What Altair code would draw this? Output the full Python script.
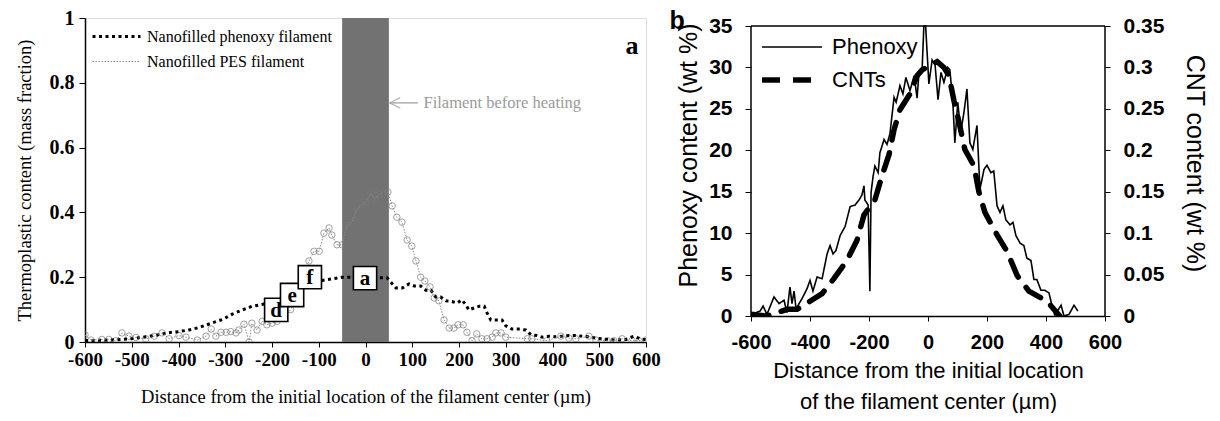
import altair as alt
import pandas as pd

# ---------------- Panel a data ----------------
phen_x = [-600, -575, -550, -525, -500, -475, -450, -425, -400, -378, -355, -330, -305, -285, -265, -243, -217,
          -190, -160, -130, -105, -93, -70, -50, -30, 33, 46, 65, 79, 93, 104, 118, 129, 140, 150, 161, 172, 185,
          196, 206, 215, 221, 232, 243, 254, 260, 268, 282, 292, 300, 313, 328, 343, 354, 367, 378, 392, 407, 420,
          435, 450, 463, 478, 493, 514, 536, 557, 574, 591, 600]
phen_y = [0.005, 0.005, 0.006, 0.008, 0.01, 0.015, 0.02, 0.028, 0.032, 0.037, 0.045, 0.058, 0.07, 0.086, 0.098,
          0.11, 0.117, 0.13, 0.15, 0.172, 0.188, 0.19, 0.195, 0.2, 0.2, 0.198, 0.198, 0.167, 0.167, 0.179, 0.173,
          0.173, 0.16, 0.16, 0.139, 0.139, 0.127, 0.125, 0.12, 0.13, 0.114, 0.099, 0.105, 0.11, 0.11, 0.09, 0.068,
          0.068, 0.068, 0.05, 0.04, 0.04, 0.037, 0.022, 0.02, 0.015, 0.018, 0.016, 0.018, 0.02, 0.02, 0.018, 0.016,
          0.012, 0.008, 0.006, 0.008, 0.018, 0.008, 0.008]

pes_x = [-600, -587, -564, -549, -534, -521, -506, -491, -470, -452, -435, -420, -399, -384, -360, -341, -330, -320,
         -309, -298, -288, -277, -271, -260, -249, -243, -232, -221, -211, -200, -189, -175, -160, -145, -130, -121,
         -110, -99, -89, -78, -72, -61, -50, -40, -29, -18, -7, 1, 12, 20, 29, 40, 48, 57, 67, 78, 89, 99, 108, 118,
         127, 138, 147, 157, 168, 179, 189, 198, 209, 217, 228, 238, 249, 260, 271, 279, 290, 300, 346, 356, 388,
         418, 435, 450, 478, 493, 517, 531, 549, 570, 585, 600]
pes_y = [0.022, 0.006, 0.008, 0.008, 0.004, 0.028, 0.018, 0.014, 0.01, 0.018, 0.028, 0.01, 0.02, 0.015, 0.006, 0.018,
         0.04, 0.018, 0.03, 0.03, 0.032, 0.028, 0.037, 0.055, 0.0, 0.058, 0.037, 0.064, 0.053, 0.058, 0.064, 0.075,
         0.1, 0.15, 0.22, 0.25, 0.28, 0.28, 0.336, 0.352, 0.33, 0.3, 0.3, 0.36, 0.37, 0.41, 0.423, 0.432, 0.46, 0.44,
         0.455, 0.463, 0.463, 0.42, 0.385, 0.37, 0.315, 0.296, 0.25, 0.2, 0.188, 0.17, 0.136, 0.127, 0.068, 0.043,
         0.043, 0.053, 0.053, 0.03, 0.004, 0.025, 0.01, 0.01, 0.015, 0.028, 0.028, 0.015, 0.01, 0.01, 0.004, 0.018,
         0.012, 0.01, 0.018, 0.006, 0.004, 0.004, 0.01, 0.004, 0.004, 0.006]

series_a = ["Nanofilled phenoxy filament", "Nanofilled PES filament"]
band_x = [-50]
band_x2 = [50]
box_labels = ["d", "e", "f", "a"]
box_x = [-191, -157, -119, -1]
box_y = [0.099, 0.145, 0.2, 0.197]
yticks_a = [0, 0.1, 0.2, 0.3, 0.4, 0.5, 0.6, 0.7, 0.8, 0.9, 1]

# ---------------- Panel b data ----------------
pb_x = [-597, -569, -559, -546, -522, -505, -488, -478, -468, -461, -454, -447, -437, -427, -410, -400, -390, -376,
        -359, -342, -332, -322, -312, -298, -281, -264, -247, -234, -224, -217, -214, -203, -197, -193, -186, -180,
        -169, -163, -149, -139, -129, -115, -108, -95, -85, -75, -61, -47, -37, -31, -20, -14, -8, 3, 14, 24, 34,
        44, 54, 67, 74, 84, 91, 101, 111, 122, 132, 142, 152, 166, 176, 190, 200, 213, 223, 234, 244, 254, 264, 278,
        288, 298, 312, 325, 335, 349, 359, 369, 383, 396, 410, 420, 430, 451, 461, 478, 495, 508]
pb_y = [0.2, 0.6, 1.2, 0.2, 2.3, 1.5, 1.9, 0.4, 3.5, 1.5, 3.0, 0.8, 1.5, 2.1, 3.3, 4.3, 3.0, 4.7, 4.5, 7.5, 8.5, 7.5,
        7.9, 9.7, 10.8, 13.2, 13.4, 14.0, 14.6, 15.7, 14.0, 13.4, 3.0, 14.9, 16.9, 18.1, 17.3, 19.7, 21.3, 20.7, 22.0,
        26.4, 25.8, 27.8, 26.8, 28.8, 27.2, 29.0, 26.3, 29.2, 29.7, 35.0, 35.0, 28.0, 30.9, 30.3, 26.1, 29.4, 28.2,
        30.0, 29.7, 26.0, 20.9, 25.8, 22.2, 24.6, 27.4, 20.9, 20.1, 23.0, 15.3, 17.7, 18.2, 17.3, 17.5, 13.3, 12.5,
        13.3, 11.6, 11.0, 11.3, 9.7, 8.8, 8.5, 7.0, 6.7, 4.4, 4.4, 3.1, 3.1, 2.8, 1.3, 0.1, 1.3, 0.0, 0.2, 1.3, 0.6]

cnt_x = [-600, -546, -478, -444, -417, -359, -319, -275, -241, -217, -180, -156, -132, -115, -95, -61, -37, -20, 31,
         54, 71, 88, 105, 125, 156, 173, 193, 234, 268, 302, 342, 403, 437, 447]
cnt_y = [0.002, 0.0, 0.008, 0.008, 0.014, 0.027, 0.045, 0.067, 0.091, 0.122, 0.14, 0.169, 0.195, 0.225, 0.249, 0.268,
         0.29, 0.297, 0.307, 0.30, 0.29, 0.26, 0.234, 0.201, 0.181, 0.149, 0.125, 0.098, 0.078, 0.049, 0.03, 0.018,
         0.004, 0.0]
series_b = ["Phenoxy", "CNTs"]
yticks_b = [0, 5, 10, 15, 20, 25, 30, 35]
yticks_c = [0, 0.05, 0.1, 0.15, 0.2, 0.25, 0.3, 0.35]

SERIF = "Liberation Serif"
SANS = "Liberation Sans"
HLINE = "M-2,0H2"

# ---------------- Panel a ----------------
df_lines_a = pd.concat([
    pd.DataFrame({"x": phen_x, "y": phen_y, "sa": series_a[0]}),
    pd.DataFrame({"x": pes_x, "y": pes_y, "sa": series_a[1]}),
])
df_pes = pd.DataFrame({"x": pes_x, "y": pes_y})
df_band = pd.DataFrame({"x": band_x, "x2": band_x2, "y": [0], "y2": [1]})
df_box = pd.DataFrame({"x": box_x, "y": box_y, "t": box_labels})

XS_A = alt.Scale(domain=[-600, 600], nice=False)
YS_A = alt.Scale(domain=[0, 1], nice=False)

xa = alt.X("x:Q", scale=XS_A,
           axis=alt.Axis(values=list(range(-600, 601, 50)),
                         labelExpr="datum.value % 100 == 0 ? '' + datum.value : ''",
                         labelFlush=False, labelOverlap=False,
                         title="Distance from the initial location of the filament center (µm)",
                         labelFont=SERIF, labelFontWeight="bold", labelFontSize=19, labelColor="black",
                         titleFont=SERIF, titleFontWeight="normal", titleFontSize=18.5, titleColor="black",
                         titlePadding=18, tickColor="black", tickSize=5, domainColor="black",
                         domainWidth=1.5, grid=False, labelPadding=3))
ya = alt.Y("y:Q", scale=YS_A,
           axis=alt.Axis(values=yticks_a, format="~g",
                         labelFlush=False, labelOverlap=False,
                         title="Thermoplastic content (mass fraction)",
                         labelFont=SERIF, labelFontWeight="bold", labelFontSize=20, labelColor="black",
                         titleFont=SERIF, titleFontWeight="normal", titleFontSize=18.5, titleColor="black",
                         titlePadding=15, tickColor="black", tickSize=6, domainColor="black",
                         domainWidth=1.5, grid=False, labelPadding=5))

band = alt.Chart(df_band).mark_rect(color="#727272").encode(x=xa, x2="x2:Q", y=ya, y2="y2:Q")

legend_a = alt.Legend(title=None, orient="none", legendX=18, legendY=5,
                      labelFont=SERIF, labelFontSize=16, labelColor="black", labelLimit=400,
                      symbolType=HLINE, symbolSize=576, rowPadding=4, labelOffset=17)

lines_a = alt.Chart(df_lines_a).mark_line(clip=True).encode(
    x=xa, y=ya,
    color=alt.Color("sa:N", scale=alt.Scale(domain=series_a, range=["black", "#8a8a8a"]), legend=legend_a),
    strokeDash=alt.StrokeDash("sa:N", scale=alt.Scale(domain=series_a, range=[[3, 3.5], [1.5, 1.5]]),
                              legend=legend_a),
    strokeWidth=alt.StrokeWidth("sa:N", scale=alt.Scale(domain=series_a, range=[3, 1]), legend=legend_a),
    order="x:Q",
)

pts_a = alt.Chart(df_pes).mark_point(shape="circle", filled=False, stroke="#7a7a7a", strokeWidth=1,
                                     size=42, clip=True).encode(x="x:Q", y="y:Q")

boxes = alt.Chart(df_box).mark_square(size=540, fill="white", stroke="black", strokeWidth=1.6,
                                      opacity=1).encode(x="x:Q", y="y:Q")
box_text = alt.Chart(df_box).mark_text(font=SERIF, fontWeight="bold", fontSize=21, color="black",
                                       baseline="middle", dy=1).encode(x="x:Q", y="y:Q", text="t:N")

ann = pd.DataFrame({"x": [52], "x2": [112], "y": [0.738], "tx": [124], "t": ["Filament before heating"],
                    "hx": [63]})
arrow_line = alt.Chart(ann).mark_rule(color="#9a9a9a", strokeWidth=1.2).encode(x="x:Q", x2="x2:Q", y="y:Q")
arrow_head = alt.Chart(ann).mark_point(shape="M1,-1 L-1,0 L1,1", filled=False, stroke="#9a9a9a",
                                       strokeWidth=1.2, size=110).encode(x="hx:Q", y="y:Q")
arrow_text = alt.Chart(ann).mark_text(font=SERIF, fontSize=16.5, color="#9a9a9a", align="left",
                                      baseline="middle").encode(x="tx:Q", y="y:Q", text="t:N")
lab_a = alt.Chart(pd.DataFrame({"x": [570], "y": [0.915], "t": ["a"]})).mark_text(
    font=SERIF, fontWeight="bold", fontSize=26, color="black", baseline="middle").encode(
    x="x:Q", y="y:Q", text="t:N")

panel_a = alt.layer(band, pts_a, lines_a, boxes, box_text, arrow_line, arrow_head, arrow_text, lab_a).properties(
    width=561, height=324)

# ---------------- Panel b ----------------
df_pb = pd.DataFrame({"x": pb_x, "y": pb_y, "sb": series_b[0]})
df_cnt = pd.DataFrame({"x": cnt_x, "y": cnt_y, "sb": series_b[1]})

YMAX_B = 35.966  # a little headroom above the frame so the panel sits lower than panel a
XS_B = alt.Scale(domain=[-600, 600], nice=False)
YS_B = alt.Scale(domain=[0, YMAX_B], nice=False)
YS_C = alt.Scale(domain=[0, YMAX_B / 100], nice=False)

xb = alt.X("x:Q", scale=XS_B,
           axis=alt.Axis(values=list(range(-600, 601, 50)),
                         labelExpr="datum.value % 200 == 0 ? '' + datum.value : ''",
                         labelFlush=False, labelOverlap=False,
                         title=["Distance from the initial location", "of the filament center (µm)"],
                         labelFont=SANS, labelFontWeight="bold", labelFontSize=20, labelColor="black",
                         titleFont=SANS, titleFontWeight="normal", titleFontSize=22, titleColor="black",
                         titleLineHeight=31, titlePadding=8, tickColor="black", tickSize=5,
                         domainColor="black", domainWidth=1.5, grid=False, labelPadding=11))

legend_b = alt.Legend(title=None, orient="none", legendX=23, legendY=13, labelFont=SANS, labelFontSize=22,
                      labelColor="black", labelLimit=300, symbolType=HLINE, symbolSize=900,
                      rowPadding=4, labelOffset=22)
dash_scale = alt.Scale(domain=series_b, range=[[1, 0], [18, 13]])
width_scale = alt.Scale(domain=series_b, range=[1.6, 5.5])

phen_b = alt.Chart(df_pb).mark_line(color="black", clip=True).encode(
    x=xb,
    y=alt.Y("y:Q", scale=YS_B,
            axis=alt.Axis(values=yticks_b, title="Phenoxy content (wt %)",
                          labelFlush=False, labelOverlap=False, domain=False,
                          labelFont=SANS, labelFontWeight="bold", labelFontSize=21, labelColor="black",
                          titleFont=SANS, titleFontWeight="normal", titleFontSize=25, titleColor="black",
                          titlePadding=7, titleY=137, tickColor="black", tickSize=6, grid=False,
                          labelPadding=13)),
    strokeDash=alt.StrokeDash("sb:N", scale=dash_scale, legend=legend_b),
    strokeWidth=alt.StrokeWidth("sb:N", scale=width_scale, legend=legend_b),
    order="x:Q",
)
cnt_b = alt.Chart(df_cnt).mark_line(color="black", clip=True, strokeCap="round").encode(
    x=alt.X("x:Q"),
    y=alt.Y("y:Q", scale=YS_C,
            axis=alt.Axis(orient="right", values=yticks_c, format="~g",
                          labelFlush=False, labelOverlap=False, domain=False,
                          title="CNT content (wt %)",
                          labelFont=SANS, labelFontWeight="bold", labelFontSize=21, labelColor="black",
                          titleFont=SANS, titleFontWeight="normal", titleFontSize=25, titleColor="black",
                          titlePadding=18, titleY=145, tickColor="black", tickSize=5, grid=False,
                          labelPadding=13)),
    strokeDash=alt.StrokeDash("sb:N", scale=dash_scale, legend=legend_b),
    strokeWidth=alt.StrokeWidth("sb:N", scale=width_scale, legend=legend_b),
    order="x:Q",
)

# frame of panel b (both side edges and the top edge), in data coordinates
frame_x = [-600, 600, -600]
frame_x2 = [-600, 600, 600]
frame_y = [0, 0, 35]
frame_y2 = [35, 35, 35]
frame_b = alt.Chart(pd.DataFrame({"x": frame_x, "x2": frame_x2, "y": frame_y, "y2": frame_y2})).mark_rule(
    color="black", strokeWidth=1.5).encode(
    x=alt.X("x:Q", scale=XS_B), x2="x2:Q", y=alt.Y("y:Q", scale=YS_B, axis=None), y2="y2:Q")

lab_b = alt.Chart(pd.DataFrame({"x": [-850], "y": [YMAX_B], "t": ["b"]})).mark_text(
    font=SANS, fontWeight="bold", fontSize=25, color="black", baseline="middle", dy=3).encode(
    x=alt.X("x:Q", scale=XS_B), y=alt.Y("y:Q", scale=YS_B, axis=None), text="t:N")

panel_b = alt.layer(phen_b, frame_b, lab_b, cnt_b).resolve_scale(y="independent").properties(
    width=354, height=298, view=alt.ViewBackground(stroke="transparent"))

chart = alt.hconcat(panel_a, panel_b, spacing=8).resolve_scale(
    color="independent", strokeDash="independent", strokeWidth="independent").resolve_legend(
    color="independent", strokeDash="independent", strokeWidth="independent").configure_view(
    stroke="black", strokeWidth=1.5).configure(
    padding={"left": 6, "top": -1, "right": 2, "bottom": 0}, background="white")

chart.save("out.html", embed_options={"renderer": "svg", "actions": False})
